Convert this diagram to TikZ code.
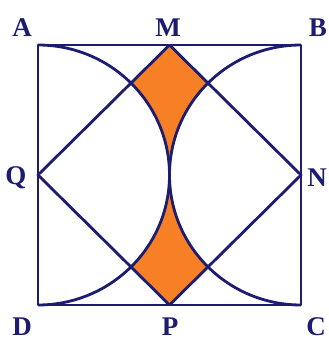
\documentclass[tikz,border=0pt]{standalone}
\usepackage{fontspec}
\setmainfont{Liberation Serif}
\usetikzlibrary{calc}
\definecolor{navy}{RGB}{28,28,112}
\definecolor{orangefill}{RGB}{247,127,38}
\begin{document}
\begin{tikzpicture}[x=1pt,y=1pt,
  edge/.style={draw=navy,line width=2.8pt,line join=round},
  lbl/.style={text=navy,font=\fontsize{27}{27}\selectfont\bfseries,inner sep=0pt}]
\useasboundingbox (0,0) rectangle (329,341);
% corners and midpoints
\coordinate (A) at (38,296);
\coordinate (B) at (301,296);
\coordinate (C) at (301,36);
\coordinate (D) at (38,36);
\coordinate (M) at (169.5,296);
\coordinate (N) at (301,166);
\coordinate (P) at (169.5,36);
\coordinate (Q) at (38,166);
\coordinate (O) at (169.5,166);
\coordinate (X1) at ($(Q)+(93.0,91.9)$);
\coordinate (X3) at ($(Q)+(93.0,-91.9)$);
% shaded regions
\fill[orangefill] (M) -- (X1) arc[start angle=45,end angle=0,x radius=131.5,y radius=130]
  arc[start angle=180,end angle=135,x radius=131.5,y radius=130] -- cycle;
\fill[orangefill] (P) -- (X3) arc[start angle=-45,end angle=0,x radius=131.5,y radius=130]
  arc[start angle=180,end angle=225,x radius=131.5,y radius=130] -- cycle;
% semicircles
\draw[edge] (A) arc[start angle=90,end angle=-90,x radius=131.5,y radius=130];
\draw[edge] (B) arc[start angle=90,end angle=270,x radius=131.5,y radius=130];
% square and rhombus
\draw[edge] (A) -- (B) -- (C) -- (D) -- cycle;
\draw[edge] (M) -- (N) -- (P) -- (Q) -- cycle;
% labels
\node[lbl] (lA) at (22,313) {A};
\node[lbl] (lM) at (168,313) {M};
\node[lbl] (lB) at (318,313) {B};
\node[lbl] (lQ) at (16,163) {Q};
\node[lbl] (lN) at (317,163) {N};
\node[lbl] (lD) at (22,14) {D};
\node[lbl] (lP) at (170,14) {P};
\node[lbl] (lC) at (316,14) {C};
\end{tikzpicture}
\end{document}
